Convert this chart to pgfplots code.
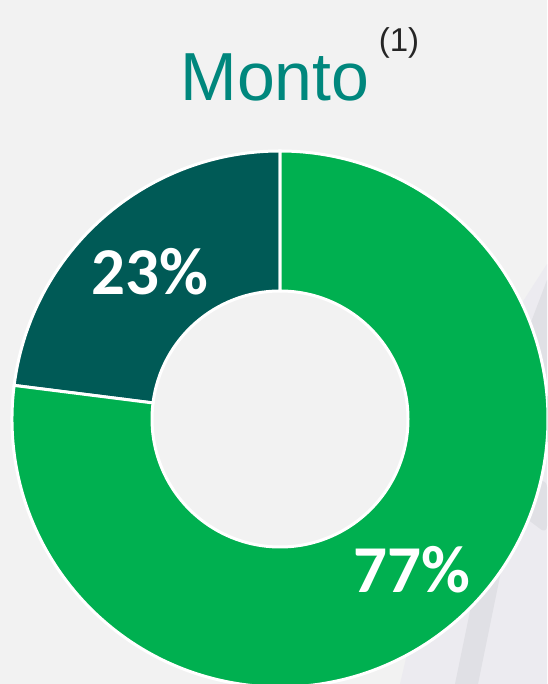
\documentclass[border=0pt]{standalone}
\usepackage{pgfplots}
\usepackage{pgfplotstable}
\usepackage{fontspec}
\pgfplotsset{compat=1.18}
\setmainfont{Liberation Sans}
\newfontfamily\carlito{Carlito}
\definecolor{bgc}{HTML}{F2F2F2}
\definecolor{gr}{HTML}{00B050}
\definecolor{dk}{HTML}{005A56}
\definecolor{tl}{HTML}{00877D}
\definecolor{deco1}{HTML}{E0E0E5}
\definecolor{deco2}{HTML}{ECEBF0}
\pgfplotstableread{
label value
Otros 23
Principal 77
}\shares
\pgfplotstablegetelem{0}{value}\of\shares
\let\vA\pgfplotsretval
\pgfplotstablegetelem{1}{value}\of\shares
\let\vB\pgfplotsretval
\pgfmathsetmacro\aS{90}
\pgfmathsetmacro\aM{90+\vA*3.6}
\pgfmathsetmacro\aE{90+(\vA+\vB)*3.6}
\begin{document}
\begin{tikzpicture}
\begin{axis}[
  scale only axis, width=547pt, height=684pt,
  xmin=0, xmax=547, ymin=0, ymax=684,
  hide axis, clip=true]
% background
\fill[bgc] (axis cs:0,0) rectangle (axis cs:547,684);
\fill[deco2] (axis cs:400,0) -- (axis cs:470,300) -- (axis cs:547,420) -- (axis cs:547,0) -- cycle;
\fill[deco1] (axis cs:547,404) -- (axis cs:528,354) -- (axis cs:455,0) -- (axis cs:478,0) -- (axis cs:528,245) -- (axis cs:547,250) -- cycle;
\fill[deco1, rounded corners=8pt] (axis cs:523,168) -- (axis cs:530,200) -- (axis cs:547,205) -- (axis cs:547,150) -- cycle;
% donut
\filldraw[fill=dk, draw=white, line width=3pt]
  (axis cs:280,265) ++(\aS:268pt) arc[start angle=\aS, end angle=\aM, radius=268pt]
  -- ++(\aM:-140pt) arc[start angle=\aM, end angle=\aS, radius=128pt] -- cycle;
\filldraw[fill=gr, draw=white, line width=3pt]
  (axis cs:280,265) ++(\aM:268pt) arc[start angle=\aM, end angle=\aE, radius=268pt]
  -- ++(\aE:-140pt) arc[start angle=\aE, end angle=\aM, radius=128pt] -- cycle;
% labels
\node[white, font=\carlito\bfseries\fontsize{67}{67}\selectfont, anchor=base] at (axis cs:150,389) {\vA\%};
\node[white, font=\carlito\bfseries\fontsize{67}{67}\selectfont, anchor=base] at (axis cs:412,91) {\vB\%};
% title
\node[tl, font=\fontsize{68}{68}\selectfont, anchor=base] at (axis cs:275,583) {Monto};
\node[black!85, font=\fontsize{33}{33}\selectfont, anchor=base] at (axis cs:399,632) {(1)};
\end{axis}
\end{tikzpicture}
\end{document}
